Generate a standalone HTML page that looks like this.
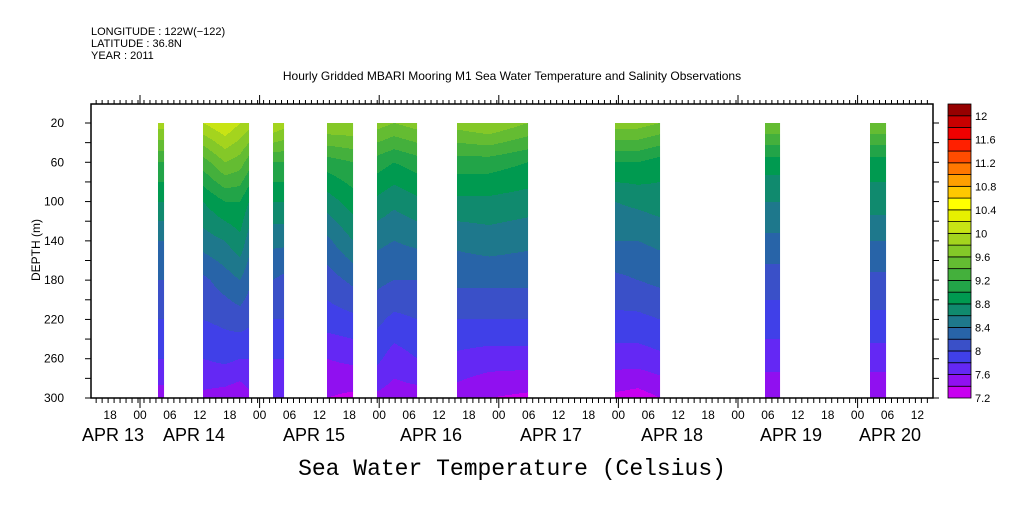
<!DOCTYPE html>
<html><head><meta charset="utf-8"><style>
body{margin:0;background:#fff;}
svg text{font-family:"Liberation Sans",sans-serif;fill:#000;}
</style></head><body>
<svg id="chart" width="1009" height="504" viewBox="0 0 1009 504" xmlns="http://www.w3.org/2000/svg">
<rect width="1009" height="504" fill="#fff"/>
<g font-size="11">
<text x="91" y="35">LONGITUDE : 122W(−122)</text>
<text x="91" y="47">LATITUDE : 36.8N</text>
<text x="91" y="59">YEAR : 2011</text>
</g>
<text x="512" y="80" font-size="12" text-anchor="middle">Hourly Gridded MBARI Mooring M1 Sea Water Temperature and Salinity Observations</text>
<g id="fills"></g>
<g id="axes" stroke="#000" fill="none"></g>
<g id="labels"></g>
<g id="cbar"></g>
<text x="40" y="250" font-size="12" text-anchor="middle" transform="rotate(-90 40 250)">DEPTH (m)</text>
<text x="512" y="475" font-size="23" text-anchor="middle" style="font-family:'Liberation Mono',monospace">Sea Water Temperature (Celsius)</text>
</svg>
<script>
// depth levels (m)
const depths = [20,60,100,140,180,220,260,300];
// bands: start/end hours from APR 14 00
const bandStart = [3.6,12.6,26.6,37.6,47.6,63.6,95.4,125.4,146.4];
const bandEnd   = [4.8,21.8,28.8,42.8,55.6,77.8,104.4,128.4,149.6];
// column times (hours) within each band and temperature profiles
const colTimes = [
 [3.6,4.8],[12.6,17,20,21.8],[26.6,28.8],[37.6,42.8],[47.6,51,55.6],[63.6,70,77.8],[95.4,100,104.4],[125.4,128.4],[146.4,149.6]];
const colTemps = [
 [[9.9,9.2,8.8,8.4,8.2,8.0,7.8,7.5],[9.9,9.2,8.8,8.4,8.2,8.0,7.8,7.5]],
 [[10.0,9.3,8.8,8.5,8.15,8.0,7.8,7.55],[10.2,9.6,9.0,8.6,8.3,8.05,7.85,7.5],[10.0,9.5,9.0,8.75,8.4,8.1,7.8,7.45],[9.9,9.3,8.8,8.5,8.25,8.05,7.8,7.55]],
 [[10.0,9.2,8.8,8.45,8.2,8.0,7.8,7.65],[9.9,9.2,8.8,8.45,8.15,8.0,7.8,7.65]],
 [[9.8,9.1,8.7,8.35,8.1,7.9,7.6,7.4],[9.8,9.2,8.9,8.6,8.25,7.95,7.65,7.35]],
 [[9.7,9.1,8.75,8.45,8.25,8.05,7.85,7.55],[9.6,9.0,8.65,8.4,8.2,7.95,7.7,7.5],[9.7,9.1,8.75,8.45,8.2,8.0,7.8,7.5]],
 [[9.7,9.1,8.75,8.45,8.25,8.0,7.75,7.5],[9.8,9.1,8.75,8.5,8.25,8.0,7.7,7.4],[9.6,9.0,8.7,8.45,8.25,8.0,7.7,7.35]],
 [[9.7,9.0,8.6,8.4,8.15,7.95,7.7,7.35],[9.7,9.0,8.65,8.4,8.2,7.95,7.7,7.3],[9.6,8.9,8.7,8.45,8.25,8.0,7.75,7.4]],
 [[9.6,8.9,8.6,8.35,8.1,7.9,7.7,7.4],[9.6,8.9,8.6,8.35,8.1,7.9,7.7,7.4]],
 [[9.6,8.9,8.7,8.4,8.15,7.95,7.7,7.4],[9.6,8.9,8.7,8.4,8.15,7.95,7.7,7.4]]];
const levelColors = ["#c800f0","#9010f0","#6428f4","#4040e8","#3a50c8","#2864a8","#1e788c","#108a6e","#009a50","#22a448","#44b03c","#64bc32","#84c828","#a4d41e","#c8e414","#e6f000","#ffff00","#ffc800","#ffa000","#ff7800","#ff4c00","#ff2000","#f00000","#c80000","#960000"];
const cbarLabels = ["7.2","7.6","8","8.4","8.8","9.2","9.6","10","10.4","10.8","11.2","11.6","12"];
const timeLabels = ["18","00","06","12"];
const dateLabels = ["APR 13","APR 14","APR 15","APR 16","APR 17","APR 18","APR 19","APR 20"];
const depthLabels = [20,60,100,140,180,220,260,300];

const NS="http://www.w3.org/2000/svg";
const X0=91,X1=933,Y0=104,Y1=398;
const xOf=h=>140+h*119.6/24;
const yOf=d=>123+(d-20)*275/280;
const dOf=y=>20+(y-123)*280/275;
function mk(tag,attrs,parent){const e=document.createElementNS(NS,tag);for(const k in attrs)e.setAttribute(k,attrs[k]);parent.appendChild(e);return e;}
function interpProfile(prof,d){
 if(d<=depths[0])return prof[0];
 for(let i=0;i<depths.length-1;i++){if(d<=depths[i+1]){const f=(d-depths[i])/(depths[i+1]-depths[i]);return prof[i]+(prof[i+1]-prof[i])*f;}}
 return prof[prof.length-1];
}
function colorIdx(t){let i=Math.floor((t-7.2)/0.2);return Math.max(0,Math.min(levelColors.length-1,i));}
const fills=document.getElementById('fills');
for(let b=0;b<bandStart.length;b++){
 const g=mk('g',{},fills);
 
 
 const xa=Math.round(xOf(bandStart[b])),xb=Math.round(xOf(bandEnd[b]));
 const ts=colTimes[b],ps=colTemps[b];
 for(let x=xa;x<xb;x++){
  const h=bandStart[b]+(x+0.5-xa)/(xb-xa)*(bandEnd[b]-bandStart[b]);
  let j=0;while(j<ts.length-2&&h>ts[j+1])j++;
  const f=Math.max(0,Math.min(1,(h-ts[j])/(ts[j+1]-ts[j])));
  let runStart=yOf(20),cur=-1;
  for(let y=Math.round(yOf(20));y<=Y1;y++){
   const d=dOf(y+0.5);
   const t=interpProfile(ps[j],d)*(1-f)+interpProfile(ps[j+1],d)*f;
   const ci=(y===Y1)?-2:colorIdx(t);
   if(ci!==cur){
    if(cur>=0){const r=mk('rect',{x:x,y:runStart,width:1.05,height:y-runStart,fill:levelColors[cur]},g);}
    cur=ci;runStart=y;
   }
  }
 }
}
// axes
const ax=document.getElementById('axes');
mk('rect',{x:X0,y:Y0,width:X1-X0,height:Y1-Y0,'stroke-width':1.5},ax);
for(let h=-10;h<=160;h+=1.2){
 const x=xOf(h);if(x<X0+1||x>X1-1)continue;
 mk('line',{x1:x,y1:Y0,x2:x,y2:Y0-4},ax);
 mk('line',{x1:x,y1:Y1,x2:x,y2:Y1+5},ax);
}
for(let dd=0;dd<8;dd++){const x=xOf(dd*24-24);if(x<X0)continue;
 mk('line',{x1:x,y1:Y0,x2:x,y2:Y0-9},ax);mk('line',{x1:x,y1:Y1,x2:x,y2:Y1+10},ax);}
for(let d=20;d<=300;d+=20){const y=yOf(d);
 mk('line',{x1:X0,y1:y,x2:X0-6,y2:y},ax);mk('line',{x1:X1,y1:y,x2:X1+6,y2:y},ax);}
const lab=document.getElementById('labels');
for(let h=-6;h<=156;h+=6){
 const x=xOf(h);if(x<X0||x>X1)continue;
 const tl=timeLabels[((h/6)%4+4+1)%4];
 const t=mk('text',{x:x,y:419,'font-size':12,'text-anchor':'middle'},lab);t.textContent=tl;
}
const dateLeft=[82,163,283,400,520,641,760,859];
dateLabels.forEach((s,i)=>{const t=mk('text',{x:dateLeft[i],y:441,'font-size':18},lab);t.textContent=s;
 
 });
depthLabels.forEach(d=>{const t=mk('text',{x:64,y:yOf(d)+4,'font-size':12,'text-anchor':'end'},lab);t.textContent=d;});
// colorbar
const cb=document.getElementById('cbar');
const CB0=948,CB1=971,cbTop=104,cbBot=398,boxH=(cbBot-cbTop)/25;
levelColors.forEach((c,i)=>{
 const r=mk('rect',{x:CB0,y:cbBot-(i+1)*boxH,width:CB1-CB0,height:boxH,fill:c,stroke:'#000','stroke-width':0.8},cb);
 
 
});
cbarLabels.forEach((s,i)=>{const t=mk('text',{x:975,y:cbBot-i*2*boxH+4,'font-size':11},cb);t.textContent=s;});
</script>
</body></html>
